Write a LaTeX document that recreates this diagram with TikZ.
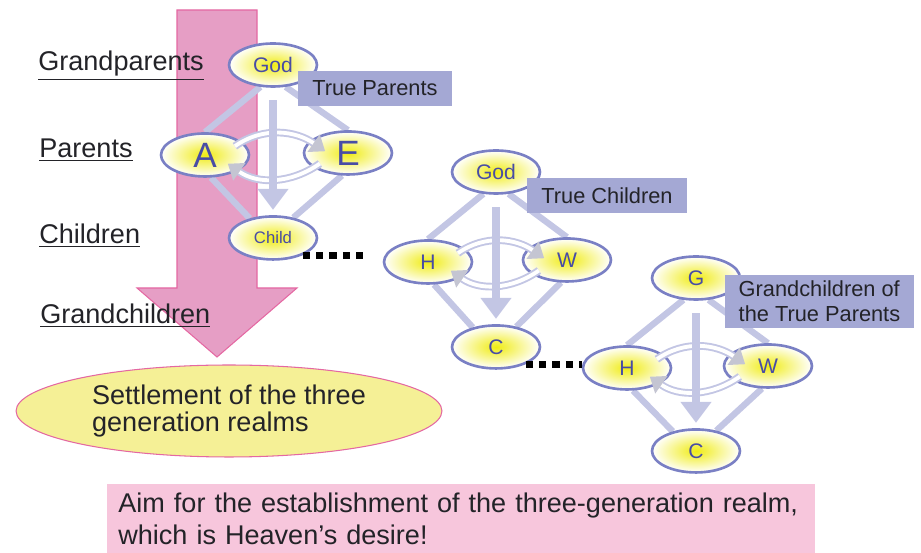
\documentclass[tikz,border=0pt]{standalone}
\usepackage{fontspec}
\setmainfont{Liberation Sans}
\usetikzlibrary{positioning, arrows.meta}
\usetikzlibrary{shapes}
\usetikzlibrary{backgrounds}
\definecolor{famline}{RGB}{122,128,196}
\definecolor{famtext}{RGB}{72,76,165}
\definecolor{linkline}{RGB}{195,198,228}
\definecolor{tagfill}{RGB}{164,168,212}
\definecolor{darktext}{RGB}{35,35,40}
\definecolor{flowfill}{RGB}{230,158,197}
\definecolor{flowline}{RGB}{228,104,162}
\definecolor{settlefill}{RGB}{245,240,150}
\definecolor{aimfill}{RGB}{247,198,220}
\definecolor{headgray}{RGB}{196,197,210}
\definecolor{glow}{RGB}{240,236,20}

\begin{document}
\begin{tikzpicture}[x=0.02cm,y=-0.02cm,on grid,
    gen/.style={shape=ellipse,draw=famline,line width=1.5pt,inner color=glow,outer color=white,minimum width=1.76cm,minimum height=0.86cm,inner sep=0pt,text=famtext,font=\fontsize{12}{14}\selectfont},
    tag/.style={fill=tagfill,text=darktext,inner xsep=0.28cm,inner ysep=0.12cm,minimum height=0.7cm,align=left,font=\fontsize{12.4}{14.2}\selectfont},
    level/.style={anchor=base west,text=darktext,inner sep=0pt,font=\fontsize{15.4}{18}\selectfont},
    link/.style={draw=linkline,line width=3.6pt},
    descent/.style={draw=linkline,line width=4.5pt,shorten <=7pt,shorten >=3pt,-{Triangle[width=17pt,length=12pt]}},
    swirl/.style={draw=linkline,line width=1.1pt,double=white,double distance=2.2pt,-{Triangle[width=12pt,length=8pt,fill=headgray,color=headgray]}},
    dots/.style={draw=black,line width=4pt,dash pattern=on 4pt off 3.6pt},
  ]
    \useasboundingbox (0,0) rectangle (921,553);
    % generation labels
    \node[level] (grandp) at (38,71) {\underline{Grandparents}};
    \node[level] (parents) at (39,158) {\underline{Parents}};
    \node[level] (children) at (39,244) {\underline{Children}};
    \node[level] (grandc) at (40,324) {\underline{Grandchildren}};

    % first family
    \node[gen] (god1) at (273,65) {God};
    \node[gen,font=\fontsize{20}{22}\selectfont] (a1) [below left=1.8cm and 1.36cm of god1] {A};
    \node[gen,font=\fontsize{20}{22}\selectfont] (e1) [below right=1.76cm and 1.5cm of god1] {E};
    \node[gen,font=\fontsize{9.5}{11}\selectfont] (child1) [below=3.46cm of god1] {Child};
    \node[tag] (tpar) [below right=0.47cm and 2.04cm of god1] {True Parents};

    % second family
    \node[gen] (god2) at (496,172) {God};
    \node[gen] (h1) [below left=1.8cm and 1.36cm of god2] {H};
    \node[gen] (w1) [below right=1.76cm and 1.42cm of god2] {W};
    \node[gen] (c1) [below=3.5cm of god2] {C};
    \node[tag] (tchild) [below right=0.47cm and 2.22cm of god2] {True Children};

    % third family
    \node[gen] (g3) at (696,278) {G};
    \node[gen] (h2) [below left=1.8cm and 1.38cm of g3] {H};
    \node[gen] (w2) [below right=1.76cm and 1.44cm of g3] {W};
    \node[gen] (c2) [below=3.46cm of g3] {C};
    \node[tag] (tgrand) [below right=0.47cm and 2.47cm of g3] {Grandchildren of\\the True Parents};

    % settlement and aim
    \node[shape=ellipse,fill=settlefill,draw=flowline,line width=0.6pt,minimum width=8.52cm,minimum height=1.84cm,align=left,text=darktext,font=\fontsize{15.4}{15.6}\selectfont] (settle) at (229,411) {Settlement of the three\\generation realms};
    \node[fill=aimfill,anchor=north west,text width=13.72cm,inner xsep=0.22cm,inner ysep=4pt,minimum height=1.38cm,align=left,text=darktext,font=\fontsize{15.4}{18}\selectfont] (aim) at (107,484) {Aim for the establishment of the three-generation realm,\\which is Heaven’s desire!};

    \begin{scope}[on background layer]
      \filldraw[fill=flowfill,draw=flowline,line width=0.6pt] (177,10) -- (257,10) -- (257,288) -- (297,288) -- (217,357) -- (137,288) -- (177,288) -- cycle;
      \draw[link] (god1.-120) -- (a1.north);
      \draw[link] (god1.-60) -- (e1.north);
      \draw[link] (a1.-75) -- (child1.140);
      \draw[link] (e1.-105) -- (child1.45);
      \draw[link] (god2.-120) -- (h1.north);
      \draw[link] (god2.-60) -- (w1.north);
      \draw[link] (h1.-75) -- (c1.140);
      \draw[link] (w1.-105) -- (c1.45);
      \draw[link] (g3.-120) -- (h2.north);
      \draw[link] (g3.-60) -- (w2.north);
      \draw[link] (h2.-75) -- (c2.140);
      \draw[link] (w2.-105) -- (c2.45);
    \end{scope}

    % give and take
    \draw[swirl] ([shift={(17pt,5pt)}]a1.center) to[out=35,in=145] ([shift={(-13pt,1pt)}]e1.center);
    \draw[swirl] ([shift={(-16pt,-6pt)}]e1.center) to[out=-145,in=-35] ([shift={(13pt,-5pt)}]a1.center);
    \draw[swirl] ([shift={(17pt,5pt)}]h1.center) to[out=35,in=145] ([shift={(-13pt,1pt)}]w1.center);
    \draw[swirl] ([shift={(-16pt,-6pt)}]w1.center) to[out=-145,in=-35] ([shift={(13pt,-5pt)}]h1.center);
    \draw[swirl] ([shift={(17pt,5pt)}]h2.center) to[out=35,in=145] ([shift={(-13pt,1pt)}]w2.center);
    \draw[swirl] ([shift={(-16pt,-6pt)}]w2.center) to[out=-145,in=-35] ([shift={(13pt,-5pt)}]h2.center);
    \draw[descent] (god1) -- (child1);
    \draw[descent] (god2) -- (c1);
    \draw[descent] (g3) -- (c2);

    % lineage
    \draw[dots,shorten >=8pt] (child1.-30) -- (child1.-30 -| h1.west);
    \draw[dots] (c1.-30) -- (c1.-30 -| h2.west);
\end{tikzpicture}
\end{document}
